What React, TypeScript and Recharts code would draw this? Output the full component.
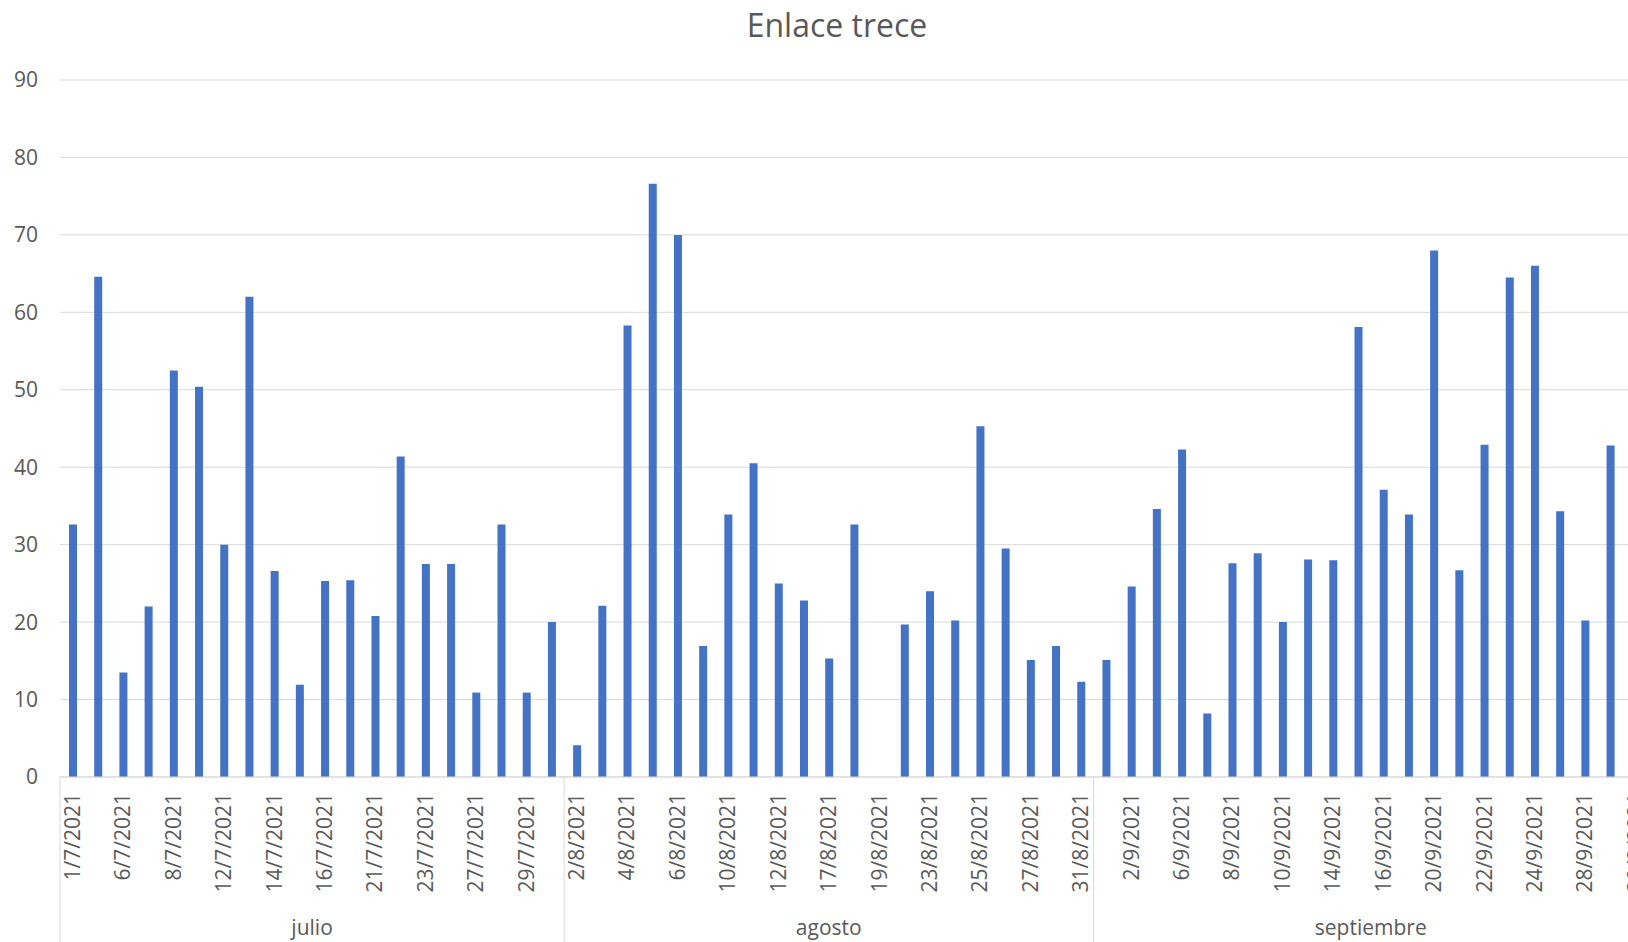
import React from 'react';
import { BarChart, Bar, XAxis, YAxis, CartesianGrid } from 'recharts';

// category labels (unlabelled in-between days are best guesses)
const julioDates = [
  '1/7/2021', '2/7/2021', '6/7/2021', '7/7/2021', '8/7/2021', '9/7/2021', '12/7/2021',
  '13/7/2021', '14/7/2021', '15/7/2021', '16/7/2021', '20/7/2021', '21/7/2021', '22/7/2021',
  '23/7/2021', '26/7/2021', '27/7/2021', '28/7/2021', '29/7/2021', '30/7/2021',
];
const agostoDates = [
  '2/8/2021', '3/8/2021', '4/8/2021', '5/8/2021', '6/8/2021', '9/8/2021', '10/8/2021',
  '11/8/2021', '12/8/2021', '13/8/2021', '17/8/2021', '18/8/2021', '19/8/2021', '20/8/2021',
  '23/8/2021', '24/8/2021', '25/8/2021', '26/8/2021', '27/8/2021', '30/8/2021', '31/8/2021',
];
const septiembreDates = [
  '1/9/2021', '2/9/2021', '3/9/2021', '6/9/2021', '7/9/2021', '8/9/2021', '9/9/2021',
  '10/9/2021', '13/9/2021', '14/9/2021', '15/9/2021', '16/9/2021', '17/9/2021', '20/9/2021',
  '21/9/2021', '22/9/2021', '23/9/2021', '24/9/2021', '27/9/2021', '28/9/2021', '29/9/2021',
  '30/9/2021',
];

const julioValues = [
  32.6, 64.6, 13.5, 22, 52.5, 50.4, 30, 62, 26.6, 11.9,
  25.3, 25.4, 20.8, 41.4, 27.5, 27.5, 10.9, 32.6, 10.9, 20,
];
const agostoValues = [
  4.1, 22.1, 58.3, 76.6, 70, 16.9, 33.9, 40.5, 25, 22.8,
  15.3, 32.6, null, 19.7, 24, 20.2, 45.3, 29.5, 15.1, 16.9, 12.3,
];
const septiembreValues = [
  15.1, 24.6, 34.6, 42.3, 8.2, 27.6, 28.9, 20, 28.1, 28,
  58.1, 37.1, 33.9, 68, 26.7, 42.9, 64.5, 66, 34.3, 20.2, 42.8, null,
];

const monthNames = ['julio', 'agosto', 'septiembre'];
const yTicks = [0, 10, 20, 30, 40, 50, 60, 70, 80, 90];

const monthDates = [julioDates, agostoDates, septiembreDates];
const monthValues = [julioValues, agostoValues, septiembreValues];

const data = monthDates.flatMap((dates, m) =>
  dates.map((date, i) => ({
    date,
    value: monthValues[m][i],
    month: monthNames[m],
    first: i === 0,
    count: dates.length,
  }))
);

const FONT = "'Open Sans', sans-serif";
const TEXT = '#595959';
const GRID = '#D9D9D9';

const CHART_W = 1660;
const CHART_H = 942;
const MARGIN = { top: 80, right: 12, bottom: 0, left: 0 };
const Y_W = 60;
const LABEL_GAP = 16;
const STEP = (CHART_W - MARGIN.left - MARGIN.right - Y_W) / data.length;

const DateTick = (props: any) => {
  const { x, y, payload, index } = props;
  const row = data[index];
  const axisY = y - LABEL_GAP;
  const left = x - STEP / 2;
  return (
    <g>
      {index % 2 === 0 && (
        <text
          x={x}
          y={y}
          transform={`rotate(-90, ${x}, ${y})`}
          textAnchor="end"
          dy="0.35em"
          fill={TEXT}
          fontSize={21}
          fontFamily={FONT}
        >
          {payload.value}
        </text>
      )}
      {row.first && <line x1={left} x2={left} y1={axisY} y2={CHART_H} stroke={GRID} />}
      {row.first && (
        <text
          x={left + (row.count * STEP) / 2}
          y={axisY + 158}
          textAnchor="middle"
          fill={TEXT}
          fontSize={21}
          fontFamily={FONT}
        >
          {row.month}
        </text>
      )}
      {index === data.length - 1 && (
        <line x1={x + STEP / 2} x2={x + STEP / 2} y1={axisY} y2={CHART_H} stroke={GRID} />
      )}
    </g>
  );
};

export default function App() {
  return (
    <div
      style={{
        position: 'absolute',
        left: 0,
        top: 0,
        width: 1628,
        height: 942,
        overflow: 'hidden',
        background: '#fff',
      }}
    >
      <div
        style={{
          position: 'absolute',
          top: 3,
          left: 837,
          transform: 'translateX(-50%)',
          fontFamily: FONT,
          fontSize: 32,
          color: TEXT,
          whiteSpace: 'nowrap',
        }}
      >
        Enlace trece
      </div>
      <BarChart width={CHART_W} height={CHART_H} data={data} margin={MARGIN}>
        <CartesianGrid vertical={false} stroke={GRID} />
        <XAxis
          dataKey="date"
          interval={0}
          height={CHART_H - 777}
          tickLine={false}
          tickSize={0}
          tickMargin={LABEL_GAP}
          axisLine={{ stroke: GRID }}
          tick={<DateTick />}
        />
        <YAxis
          width={Y_W}
          domain={[0, 90]}
          ticks={yTicks}
          axisLine={false}
          tickLine={false}
          tickSize={0}
          tickMargin={22}
          tick={{ fill: TEXT, fontSize: 21, fontFamily: FONT }}
        />
        <Bar dataKey="value" fill="#4472C4" barSize={8} isAnimationActive={false} />
      </BarChart>
    </div>
  );
}
